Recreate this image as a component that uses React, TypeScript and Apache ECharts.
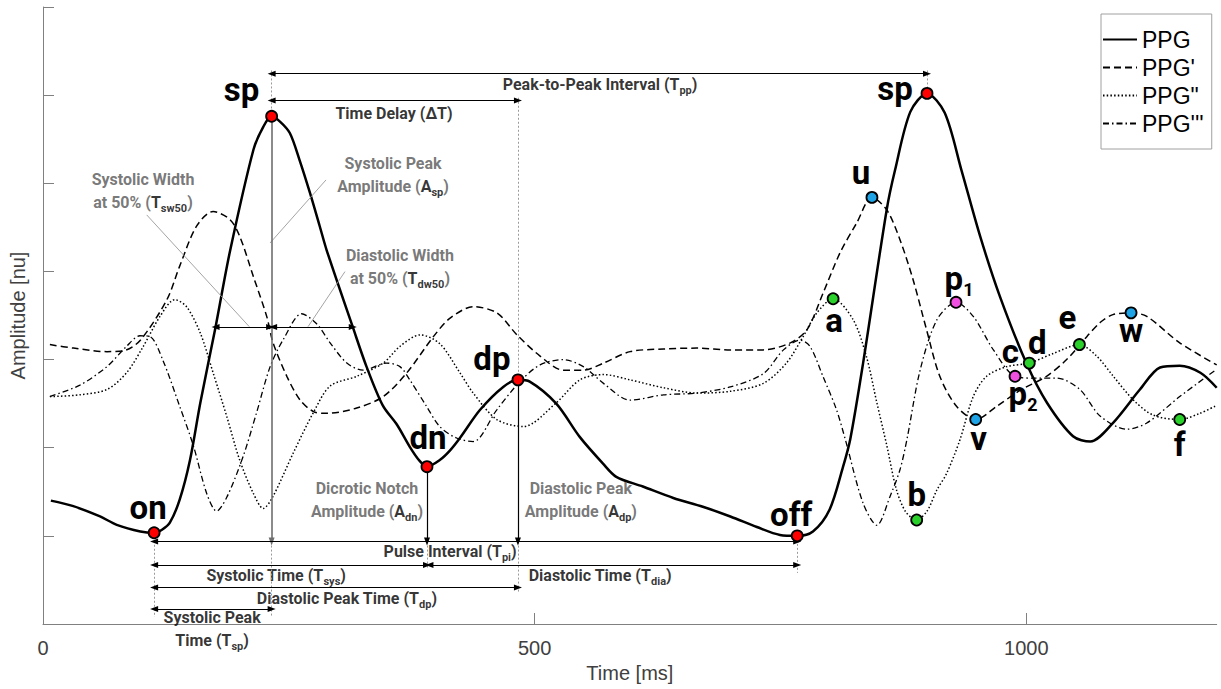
import React, { useEffect, useRef } from "react";
import * as echarts from "echarts";

// ---------------- data (time in ms, amplitude in normalised units) ----------------
const X_TICKS = [0, 500, 1000];
const X_MAX = 1193.6;
const Y_MIN = -1;
const Y_MAX = 6;

const SERIES_NAMES = ["PPG", "PPG'", 'PPG"', "PPG'''"];

const PPG: number[][] = [
  [8, 0.4], [30, 0.34], [58, 0.22], [75, 0.125], [99, 0.05], [113, 0.035], [121, 0.07], [129, 0.15],
  [139, 0.41], [149.5, 0.86], [160, 1.51], [175.5, 2.37], [190, 3.22], [214, 4.38], [224, 4.64],
  [232.5, 4.76], [241, 4.7], [251, 4.57], [261, 4.26], [271.5, 3.89], [281.5, 3.51], [288.5, 3.24],
  [315, 2.37], [329, 1.92], [345.5, 1.48], [360, 1.26], [373, 1.01], [383, 0.85], [390.5, 0.785],
  [403.5, 0.86], [414, 0.97], [424, 1.11], [444.5, 1.43], [468, 1.69], [483, 1.77], [495, 1.75],
  [522, 1.5], [546, 1.12], [569.5, 0.82], [583, 0.67], [610, 0.56], [641, 0.43], [671, 0.33],
  [699, 0.22], [726, 0.1], [749.5, 0.01], [767, 0.0], [783, 0.05], [800, 0.3], [813.5, 0.78],
  [821, 1.1], [834, 1.96], [858, 3.7], [866.5, 4.15], [882, 4.81], [899, 5.02], [917, 4.8],
  [934, 4.15], [953, 3.4], [973, 2.72], [1000, 1.96], [1021, 1.51], [1047.5, 1.13], [1065, 1.07],
  [1088, 1.28], [1115.5, 1.66], [1136, 1.91], [1156, 1.93], [1177, 1.85], [1193.6, 1.68],
];

const PPG1: number[][] = [
  [7, 2.17], [31, 2.13], [65, 2.09], [82, 2.1], [99, 2.22], [126, 2.68], [139, 3.06], [156, 3.51],
  [173, 3.68], [190, 3.59], [200, 3.4], [214, 2.94], [227.5, 2.49], [234, 2.19], [248, 1.81],
  [261.5, 1.54], [275, 1.41], [288.5, 1.39], [319, 1.45], [346, 1.58], [370, 1.85], [397, 2.26],
  [414, 2.47], [437.5, 2.6], [461.5, 2.53], [482, 2.28], [505.5, 2.04], [529, 1.88], [549.5, 1.88],
  [570, 1.96], [597, 2.09], [631, 2.12], [665, 2.13], [699, 2.11], [732.5, 2.11], [760, 2.19],
  [777, 2.34], [793.5, 2.76], [810.5, 3.21], [827.5, 3.55], [843, 3.84], [858, 3.7], [871.5, 3.36],
  [885, 2.9], [898.5, 2.34], [912, 1.81], [929, 1.47], [948.5, 1.32], [970, 1.47], [993.5, 1.65],
  [1020.5, 1.81], [1041, 2.0], [1061.5, 2.26], [1075, 2.42], [1088, 2.51], [1106.5, 2.53],
  [1122.5, 2.49], [1156, 2.19], [1193.6, 1.94],
];

const PPG2: number[][] = [
  [7, 1.58], [37.5, 1.6], [65, 1.66], [85, 1.85], [102, 2.15], [119, 2.49], [134, 2.68], [146, 2.6],
  [160, 2.3], [173, 1.85], [187, 1.35], [200, 0.86], [214, 0.48], [224, 0.31], [234, 0.45],
  [254.5, 0.94], [275, 1.4], [292, 1.7], [319, 1.81], [346, 1.96], [363, 2.15], [383.5, 2.28],
  [403.5, 2.18], [424, 1.85], [437.5, 1.62], [461.5, 1.32], [488.5, 1.24], [522, 1.51], [546, 1.77],
  [570, 1.83], [597, 1.77], [631, 1.68], [665, 1.62], [699, 1.64], [732.5, 1.73], [756, 1.96],
  [773, 2.26], [787, 2.53], [803.5, 2.69], [824, 2.45], [837.5, 2.03], [848, 1.51], [858, 1.03],
  [868, 0.52], [877.5, 0.27], [888.5, 0.18], [899, 0.28], [909, 0.52], [919, 0.71], [932.5, 1.09],
  [946, 1.58], [959.5, 1.81], [980, 1.92], [1003, 1.96], [1027.5, 2.07], [1054, 2.17], [1071.5, 2.04],
  [1088.5, 1.81], [1109, 1.54], [1129, 1.37], [1156, 1.32], [1176.5, 1.39], [1193.6, 1.48],
];

const PPG3: number[][] = [
  [7, 1.58], [37.5, 1.71], [65, 1.92], [85, 2.15], [98.5, 2.27], [109, 2.26], [122, 1.99], [139, 1.47],
  [153, 1.02], [166.5, 0.48], [176.5, 0.28], [187, 0.44], [203.5, 0.9], [217, 1.39], [231, 1.92],
  [244.5, 2.23], [263, 2.52], [278, 2.41], [292, 2.19], [309, 1.96], [325.5, 1.88], [349.5, 1.96],
  [363, 1.92], [373, 1.77], [390, 1.47], [403.5, 1.24], [420.5, 1.11], [437.5, 1.07], [461.5, 1.43],
  [485, 1.75], [505.5, 1.94], [529, 2.0], [549.5, 1.92], [570, 1.73], [597, 1.54], [631, 1.6],
  [665, 1.62], [699, 1.69], [732.5, 1.84], [753, 2.11], [770, 2.22], [780, 2.15], [793.5, 1.8],
  [807, 1.43], [816, 1.09], [834, 0.37], [848, 0.12], [861.5, 0.45], [871.5, 0.75], [878.5, 1.09],
  [892, 1.88], [909, 2.45], [928.5, 2.65], [946, 2.49], [966.5, 2.11], [988.5, 1.81], [1007, 1.79],
  [1031, 1.79], [1054.5, 1.66], [1075, 1.36], [1102, 1.21], [1122.5, 1.28], [1156, 1.58], [1193.6, 1.89],
];

// fiducial points
const RED_POINTS = [
  { name: "on", value: [113, 0.035] },
  { name: "sp", value: [232.5, 4.76] },
  { name: "dn", value: [390.5, 0.785] },
  { name: "dp", value: [483, 1.77] },
  { name: "off", value: [767, 0.0] },
  { name: "sp2", value: [899, 5.02] },
];
const BLUE_POINTS = [
  { name: "u", value: [843, 3.84] },
  { name: "v", value: [948.5, 1.32] },
  { name: "w", value: [1106.5, 2.53] },
];
const GREEN_POINTS = [
  { name: "a", value: [803.5, 2.69] },
  { name: "b", value: [888.5, 0.18] },
  { name: "d", value: [1003, 1.96] },
  { name: "e", value: [1054, 2.17] },
  { name: "f", value: [1156, 1.32] },
];
const MAGENTA_POINTS = [
  { name: "p1", value: [928.5, 2.65] },
  { name: "p2", value: [988.5, 1.81] },
];
const LABEL_ONLY_POINTS = [{ name: "c", value: [1003, 1.96] }];

// ---------------- styles ----------------
const POINT_LABEL_TEXT: Record<string, string> = {
  on: "{big|on}", sp: "{big|sp}", dn: "{big|dn}", dp: "{big|dp}", off: "{big|off}", sp2: "{big|sp}",
  u: "{big|u}", v: "{big|v}", w: "{big|w}", a: "{big|a}", b: "{big|b}", c: "{big|c}", d: "{big|d}",
  e: "{big|e}", f: "{big|f}", p1: "{big|p}{bigsub|1}", p2: "{big|p}{bigsub|2}",
};
const POINT_LABEL_OFFSET: Record<string, number[]> = {
  on: [-6, -25], sp: [-30, -27], dn: [1, -29], dp: [-26, -21], off: [-6, -21], sp2: [-32, -5],
  u: [-11, -25], v: [3, 19], w: [0, 18], a: [1, 22], b: [0, -25], c: [-19, -12], d: [8, -21],
  e: [-12, -27], f: [0, 25], p1: [3, -24], p2: [8, 17],
};

const FONT = "Roboto";
const AXIS_FONT = "Liberation Sans";

const ANNOT_RICH = {
  k: { fontFamily: FONT, fontWeight: "bold", fontSize: 16, color: "#000", lineHeight: 23 },
  ks: { fontFamily: FONT, fontWeight: "bold", fontSize: 11, color: "#000", lineHeight: 14, verticalAlign: "bottom" },
  g: { fontFamily: FONT, fontWeight: "bold", fontSize: 16, color: "#565656", lineHeight: 23 },
  gs: { fontFamily: FONT, fontWeight: "bold", fontSize: 11, color: "#565656", lineHeight: 14, verticalAlign: "bottom" },
};
const BIG_RICH = {
  big: { fontFamily: FONT, fontWeight: "bold", fontSize: 33, color: "#000", lineHeight: 40 },
  bigsub: { fontFamily: FONT, fontWeight: "bold", fontSize: 18, color: "#000", lineHeight: 17, verticalAlign: "bottom" },
};

// ---------------- annotations (data coordinates) ----------------
const fid = (n: string) => RED_POINTS.find((p) => p.name === n)!.value;
const ON = fid("on"), SP = fid("sp"), DN = fid("dn"), DP = fid("dp"), OFF = fid("off"), SP2 = fid("sp2");

const LEVEL = { pp: 5.244, dt: 4.94, w50: 2.37, pi: -0.065, sys: -0.33, dpt: -0.587, spt: -0.83 };
const W50_LEFT = 175.5;
const W50_RIGHT = 315;

const ANNOT_TEXTS = [
  { value: [566.5, 5.126], text: "{k|Peak-to-Peak Interval (T}{ks|pp}{k|)}" },
  { value: [357, 4.787], text: "{k|Time Delay (\u0394T)}" },
  { value: [101.7, 3.913], text: "{g|Systolic Width}\n{g|at 50% (}{k|T}{ks|sw50}{g|)}" },
  { value: [356, 4.095], text: "{g|Systolic Peak}\n{g|Amplitude (}{k|A}{ks|sp}{g|)}" },
  { value: [363, 3.045], text: "{g|Diastolic Width}\n{g|at 50% (}{k|T}{ks|dw50}{g|)}" },
  { value: [329.5, 0.407], text: "{g|Dicrotic Notch}\n{g|Amplitude (}{k|A}{ks|dn}{g|)}" },
  { value: [547, 0.407], text: "{g|Diastolic Peak}\n{g|Amplitude (}{k|A}{ks|dp}{g|)}" },
  { value: [414, -0.183], text: "{k|Pulse Interval (T}{ks|pi}{k|)}" },
  { value: [237, -0.455], text: "{k|Systolic Time (T}{ks|sys}{k|)}" },
  { value: [566.5, -0.455], text: "{k|Diastolic Time (T}{ks|dia}{k|)}" },
  { value: [309, -0.716], text: "{k|Diastolic Peak Time (T}{ks|dp}{k|)}" },
  { value: [172, -1.056], text: "{k|Systolic Peak}\n{k|Time (T}{ks|sp}{k|)}" },
];

const arrow = (a: number[], b: number[], color = "#000", width = 1.2) => [
  { coord: a, symbol: "triangle", symbolSize: [6, 8], lineStyle: { color, width, type: "solid" }, itemStyle: { color: "#000" } },
  { coord: b, symbol: "triangle", symbolSize: [6, 8], itemStyle: { color: "#000" } },
];
const guide = (a: number[], b: number[]) => [
  { coord: a, symbol: "none", lineStyle: { color: "#9a9a9a", width: 1, type: [2, 2] } },
  { coord: b, symbol: "none" },
];
const leader = (a: number[], b: number[]) => [
  { coord: a, symbol: "none", lineStyle: { color: "#9a9a9a", width: 0.9, type: "solid" } },
  { coord: b, symbol: "none" },
];

const MARK_LINES = [
  // guides
  guide([SP[0], 5.28], SP),
  guide([SP2[0], 5.28], SP2),
  guide([DP[0], 4.97], DP),
  guide(ON, [ON[0], -0.92]),
  guide([SP[0], LEVEL.pi], [SP[0], -0.92]),
  guide([DN[0], LEVEL.pi], [DN[0], -0.36]),
  guide([DP[0], LEVEL.pi], [DP[0], -0.64]),
  guide(OFF, [OFF[0], -0.42]),
  // leaders
  leader([105.5, 3.641], [209.8, 2.373]),
  leader([287.8, 4.038], [230.9, 3.323]),
  leader([307.1, 2.998], [269.5, 2.373]),
  // vertical amplitude arrows
  arrow(SP, [SP[0], LEVEL.pi], "#6e6e6e", 1.6),
  arrow(DN, [DN[0], LEVEL.pi]),
  arrow(DP, [DP[0], LEVEL.pi]),
  // horizontal interval arrows
  arrow([SP[0], LEVEL.pp], [SP2[0], LEVEL.pp]),
  arrow([SP[0], LEVEL.dt], [DP[0], LEVEL.dt]),
  arrow([W50_LEFT, LEVEL.w50], [SP[0] - 1.5, LEVEL.w50]),
  arrow([SP[0] + 1.5, LEVEL.w50], [W50_RIGHT, LEVEL.w50]),
  arrow([ON[0], LEVEL.pi], [OFF[0], LEVEL.pi]),
  arrow([ON[0], LEVEL.sys], [DN[0], LEVEL.sys]),
  arrow([DN[0] + 2.5, LEVEL.sys], [OFF[0], LEVEL.sys]),
  arrow([ON[0], LEVEL.dpt], [DP[0], LEVEL.dpt]),
  arrow([ON[0], LEVEL.spt], [SP[0], LEVEL.spt]),
];

const pointSeries = (data: { name: string; value: number[] }[], color: string, size = 11) => ({
  type: "scatter",
  data: data.map((p) => ({
    name: p.name,
    value: p.value,
    label: { offset: POINT_LABEL_OFFSET[p.name] },
  })),
  symbol: "circle",
  symbolSize: size,
  itemStyle: { color, borderColor: "#000", borderWidth: 1.8, opacity: 1 },
  label: {
    show: true,
    position: "inside",
    color: "#000",
    opacity: 1,
    textBorderWidth: 0,
    formatter: (p: any) => POINT_LABEL_TEXT[p.name],
    rich: BIG_RICH,
  },
  z: 5,
  silent: true,
  clip: false,
});

export default function App() {
  const ref = useRef<HTMLDivElement>(null);

  useEffect(() => {
    if (!ref.current) return;
    const chart = echarts.init(ref.current, undefined, { renderer: "svg" });

    const lineSeries = (name: string, data: number[][], width: number, type: any) => ({
      name,
      type: "line",
      data,
      symbol: "none",
      smooth: 0.3,
      lineStyle: { color: "#000", width, type },
      itemStyle: { color: "#000" },
      z: 2,
      silent: true,
    });

    const labelOnly = pointSeries(LABEL_ONLY_POINTS, "#000", 0);
    (labelOnly as any).itemStyle = { color: "#000", borderWidth: 0 };

    chart.setOption({
      animation: false,
      backgroundColor: "#fff",
      grid: { left: 43, right: 4.3, top: 7, bottom: 65, containLabel: false },
      legend: {
        data: SERIES_NAMES,
        orient: "vertical",
        left: 1101,
        top: 14,
        itemWidth: 34,
        itemHeight: 14,
        itemGap: 5,
        padding: [14, 8, 14, 1],
        borderColor: "#a0a0a0",
        borderWidth: 1,
        backgroundColor: "#fff",
        selectedMode: false,
        itemStyle: { opacity: 0, borderWidth: 0 },
        textStyle: { fontFamily: AXIS_FONT, fontSize: 23, color: "#000" },
      },
      xAxis: {
        type: "value",
        min: 0,
        max: X_MAX,
        interval: 500,
        name: "Time [ms]",
        nameLocation: "middle",
        nameGap: 38,
        nameTextStyle: { fontFamily: AXIS_FONT, fontSize: 20, color: "#404040" },
        axisLine: { show: true, onZero: false, lineStyle: { color: "#808080", width: 1 } },
        axisTick: { show: true, inside: true, length: 11, customValues: X_TICKS, lineStyle: { color: "#808080" } },
        axisLabel: {
          show: true,
          customValues: X_TICKS,
          margin: 14,
          fontFamily: AXIS_FONT,
          fontSize: 20,
          color: "#404040",
          formatter: (v: number) => (X_TICKS.includes(v) ? String(v) : ""),
        },
        splitLine: { show: false },
      },
      yAxis: {
        type: "value",
        min: Y_MIN,
        max: Y_MAX,
        interval: 1,
        name: "Amplitude [nu]",
        nameLocation: "middle",
        nameGap: 15,
        nameTextStyle: { fontFamily: AXIS_FONT, fontSize: 20, color: "#404040" },
        axisLine: { show: true, onZero: false, lineStyle: { color: "#808080", width: 1 } },
        axisTick: { show: true, inside: true, length: 11, lineStyle: { color: "#808080" } },
        axisLabel: { show: false },
        splitLine: { show: false },
      },
      series: [
        lineSeries(SERIES_NAMES[0], PPG, 2.5, "solid"),
        lineSeries(SERIES_NAMES[1], PPG1, 1.5, [7, 4]),
        lineSeries(SERIES_NAMES[2], PPG2, 1.5, [1.5, 2.2]),
        lineSeries(SERIES_NAMES[3], PPG3, 1.3, [6, 3, 1.5, 3]),
        {
          type: "line",
          data: [],
          silent: true,
          clip: false,
          z: 3,
          markLine: {
            silent: true,
            animation: false,
            label: { show: false },
            emphasis: { disabled: true },
            data: MARK_LINES,
          },
        },
        {
          type: "scatter",
          data: ANNOT_TEXTS.map((a) => ({ value: a.value, text: a.text })),
          symbol: "circle",
          symbolSize: 1,
          itemStyle: { color: "rgba(0,0,0,0)" },
          label: {
            show: true,
            position: "inside",
            color: "#000",
            textBorderWidth: 0,
            align: "center",
            formatter: (p: any) => p.data.text,
            rich: ANNOT_RICH,
          },
          silent: true,
          clip: false,
          z: 4,
        },
        pointSeries(RED_POINTS, "#ff0000"),
        pointSeries(BLUE_POINTS, "#1ea4e6"),
        pointSeries(GREEN_POINTS, "#2bd12b"),
        pointSeries(MAGENTA_POINTS, "#f050e0"),
        labelOnly,
      ],
    });

    return () => chart.dispose();
  }, []);

  return (
    <div
      ref={ref}
      style={{ position: "fixed", left: 0, top: 0, width: 1221, height: 689, background: "#fff" }}
    />
  );
}
